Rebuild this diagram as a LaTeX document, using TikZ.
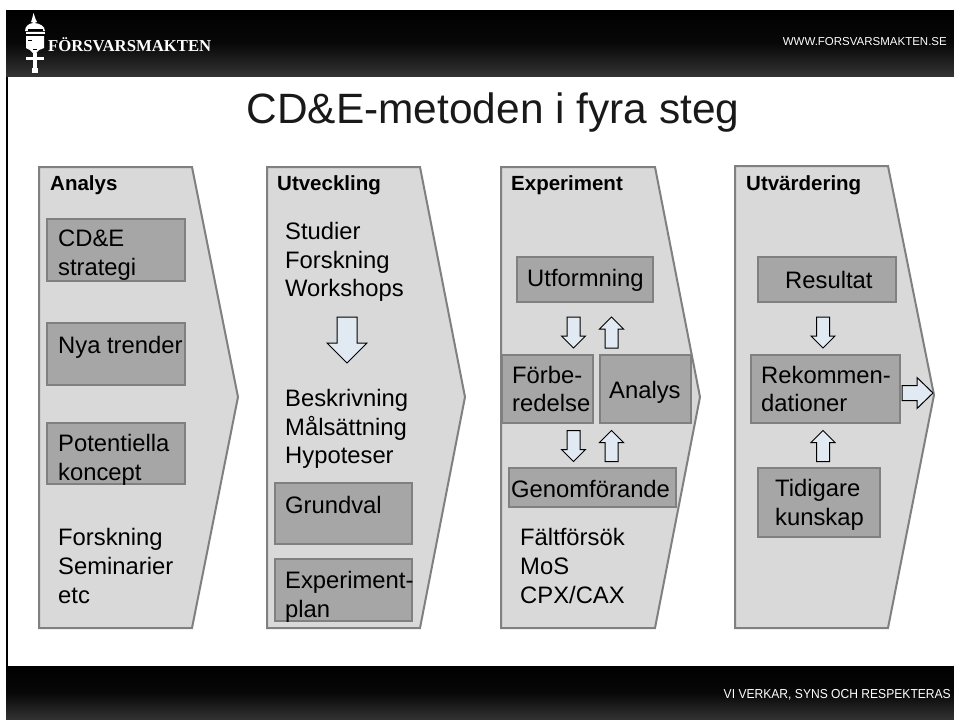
\documentclass[tikz,border=0pt]{standalone}
\usepackage{fontspec}
\setmainfont{Liberation Sans}
\newfontfamily\logofont{Liberation Serif}
\definecolor{panel}{HTML}{D9D9D9}
\definecolor{inner}{HTML}{A6A6A6}
\definecolor{edge}{HTML}{808080}
\definecolor{arrowfill}{HTML}{E1EAF2}
\tikzset{
  x=1pt,y=-1pt,
  band/.style={top color=black,bottom color=black!80,middle color=black!97,draw=none},
  panelshape/.style={fill=panel,draw=edge,line width=2pt,line join=miter},
  innerbox/.style={fill=inner,draw=edge,line width=1.6pt,inner sep=0pt},
  head/.style={anchor=west,inner sep=0pt,font=\fontsize{20.5}{24}\selectfont\bfseries},
  plain/.style={anchor=west,inner sep=0pt,align=left,font=\fontsize{23.8}{28.7}\selectfont},
  blockarrow/.style={draw=black,fill=arrowfill,line width=1pt,line join=miter},
}
% name, x1, y1, x2, y2
\newcommand{\boxnode}[5]{\node[innerbox,minimum width=#4pt-#2pt,minimum height=#5pt-#3pt] (#1) at ({(#2+#4)/2},{(#3+#5)/2}) {};}
% x, y (start of the shaft), rotation, length, shaft width, head width, head length
\newcommand{\blockarrow}[7]{\draw[blockarrow,shift={(#1,#2)},rotate=#3] (0,{-#5/2}) -- ({#4-#7},{-#5/2}) -- ({#4-#7},{-#6/2}) -- (#4,0) -- ({#4-#7},{#6/2}) -- ({#4-#7},{#5/2}) -- (0,{#5/2}) -- cycle;}
\begin{document}
\begin{tikzpicture}
\useasboundingbox (0,0) rectangle (954,720);
\fill[white] (0,0) rectangle (954,720);
\fill[black] (6,10) rectangle (8,670);
\shade[band] (6,10) rectangle (954,76);
\shade[band] (6,666) rectangle (954,720);
% logo
\begin{scope}[fill=white]
\fill (33.5,13) -- (35.5,19) -- (37,22) -- (34,23) -- (31,22) -- (32,19) -- cycle;
\fill (25,31) .. controls (25,26) and (29,23) .. (34,23) .. controls (39,23) and (45,26) .. (45,31) -- cycle;
\fill (26,32) rectangle (45,34);
\fill[black] (28,29) rectangle (43,30.5);
\fill (26,36) -- (44,36) -- (44,48) -- (39,50) -- (36,53) -- (33,53) -- (30,50) -- (26,48) -- cycle;
\fill[black] (28,39.5) rectangle (32,40.5);
\fill[black] (33,49) rectangle (37,50);
\fill (33,53) rectangle (37,73);
\fill (26,57) rectangle (44,60);
\fill (32,68) rectangle (38,73);
\end{scope}
\node[anchor=west,inner sep=0pt,text=white] (logo) at (48,44.5) {\logofont\fontsize{16.7}{18}\selectfont\bfseries F\"ORSVARSMAKTEN};
\node[anchor=east,inner sep=0pt,text=white] (web) at (947,42) {\fontsize{11.5}{13}\selectfont WWW.FORSVARSMAKTEN.SE};
\node[anchor=east,inner sep=0pt,text=white,transform shape,xscale=.93] (motto) at (951,695) {\fontsize{13}{15}\selectfont VI VERKAR, SYNS OCH RESPEKTERAS};
\node[inner sep=0pt,text=black!90] (title) at (493,113) {\fontsize{42.4}{48}\selectfont CD\&E-metoden i fyra steg};
% panels
\draw[panelshape] (39,167) -- (192,167) -- (238,397) -- (192,628) -- (39,628) -- cycle;
\draw[panelshape] (267,167) -- (420,167) -- (465,397) -- (420,628) -- (267,628) -- cycle;
\draw[panelshape] (501,167) -- (655,167) -- (700,397) -- (655,628) -- (501,628) -- cycle;
\draw[panelshape] (735,166) -- (888,166) -- (934,395) -- (888,628) -- (735,628) -- cycle;
\node[head] (h1) at (50,185) {Analys};
\node[head] (h2) at (277,185) {Utveckling};
\node[head] (h3) at (511,185) {Experiment};
\node[head] (h4) at (746,185) {Utvärdering};
% analys
\boxnode{a1}{47}{219}{185}{281}
\boxnode{a2}{47}{323}{185}{385}
\boxnode{a3}{47}{423}{185}{484}
\node[plain] (ta1) at (58,255) {CD\&E\\strategi};
\node[plain] (ta2) at (58,347) {Nya trender};
\node[plain] (ta3) at (58,460) {Potentiella\\koncept};
\node[plain] (ta4) at (58,566) {Forskning\\Seminarier\\etc};
% utveckling
\node[plain] (u1) at (285,262) {Studier\\Forskning\\Workshops};
\node[plain] (u2) at (285,429) {Beskrivning\\Målsättning\\Hypoteser};
\boxnode{u3}{275}{483}{412}{544}
\boxnode{u4}{275}{559}{412}{621}
\node[plain] (tu3) at (285,505) {Grundval};
\node[plain] (tu4) at (285,597) {Experiment-\\plan};
\blockarrow{347}{317}{-90}{46}{20}{40}{20}
% experiment
\boxnode{e1}{517}{257}{653}{302}
\boxnode{e2}{502}{355}{593}{423}
\boxnode{e3}{600}{355}{691}{423}
\boxnode{e4}{509}{468}{676}{507}
\node[plain] (te1) at (527,280) {Utformning};
\node[plain] (te2) at (512,389) {Förbe-\\redelse};
\node[plain] (te3) at (609,392) {Analys};
\node[plain] (te4) at (511,489) {Genomförande};
\node[plain] (te5) at (520,566) {Fältförsök\\MoS\\CPX/CAX};
\blockarrow{573.5}{317}{-90}{31}{13}{24}{12}
\blockarrow{611.5}{348}{90}{31}{13}{24}{12}
\blockarrow{573.5}{430.5}{-90}{31}{13}{24}{12}
\blockarrow{611.5}{461.5}{90}{31}{13}{24}{12}
% utvardering
\boxnode{v1}{758}{257}{896}{302}
\boxnode{v2}{751}{355}{900}{423}
\boxnode{v3}{758}{468}{880}{537}
\node[plain] (tv1) at (785,280) {Resultat};
\node[plain] (tv2) at (761,389) {Rekommen-\\dationer};
\node[plain] (tv3) at (775,505) {Tidigare\\kunskap};
\blockarrow{823}{317}{-90}{31}{13}{24}{12}
\blockarrow{823}{461.5}{90}{31}{13}{24}{12}
\blockarrow{902}{393}{0}{31}{15}{31}{16}
\end{tikzpicture}
\end{document}
